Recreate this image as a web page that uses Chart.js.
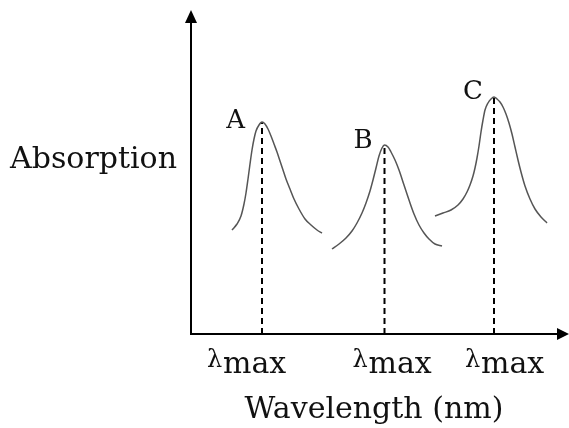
<!DOCTYPE html>
<html>
<head>
<meta charset="utf-8">
<script src="https://cdn.jsdelivr.net/npm/chart.js@4"></script>
<style>
html,body{margin:0;padding:0;background:#fff;}
canvas{display:block;}
</style>
</head>
<body>
<canvas id="c" width="569" height="428"></canvas>
<script>
// ---- data (arbitrary units) ----
const wavelengthA = [41, 46, 50, 53, 55, 57, 59, 61, 63, 65, 68, 71, 74, 77, 80, 83, 86, 89, 92, 95, 99, 103, 108, 114, 120, 126, 131];
const absorptionA = [104, 110, 118, 130, 141, 155, 170, 184, 195, 203, 209, 212, 210, 205, 198, 190, 182, 173, 164, 155, 145, 135, 125, 115, 109, 104, 101];
const wavelengthB = [141, 148, 155, 161, 166, 171, 175, 179, 182, 185, 188, 191, 193.5, 197, 200, 204, 208, 213, 218, 223, 228, 233, 238, 244, 251];
const absorptionB = [85, 90, 96, 103, 111, 121, 131, 143, 154, 166, 178, 186, 189, 187, 182, 174, 164, 149, 134, 120, 109, 101, 95, 90, 88];
const wavelengthC = [244, 252, 260, 267, 272, 276, 279, 282, 284, 286, 288, 290, 292, 294, 297, 300, 303, 306, 309, 312, 315, 318, 321, 324, 327, 330, 334, 339, 344, 350, 356];
const absorptionC = [118, 121, 124, 129, 135, 142, 149, 158, 166, 176, 188, 202, 214, 224, 231, 235, 237, 235, 232, 227, 220, 211, 200, 187, 174, 162, 148, 135, 125, 117, 111];
const peakLabels = ['A', 'B', 'C'];
const peakX = [71, 193.5, 303];
const peakY = [212, 189, 237];
const tickSymbol = 'λ';
const tickSub = 'max';
const xTitle = 'Wavelength (nm)';
const yTitle = 'Absorption';
const xMax = 378, yMax = 324;

const pts = (xs, ys) => xs.map((x, i) => ({x, y: ys[i]}));
const curveStyle = {borderColor: '#555', borderWidth: 1.5, pointRadius: 0, cubicInterpolationMode: 'monotone', fill: false};
const dashStyle = {borderColor: '#000', borderWidth: 2, borderDash: [6, 4], pointRadius: 0, tension: 0, fill: false};

const datasets = [
  Object.assign({data: pts(wavelengthA, absorptionA)}, curveStyle),
  Object.assign({data: pts(wavelengthB, absorptionB)}, curveStyle),
  Object.assign({data: pts(wavelengthC, absorptionC)}, curveStyle),
];
peakX.forEach((px, i) => {
  datasets.push(Object.assign({data: [{x: px, y: 0}, {x: px, y: peakY[i]}]}, dashStyle));
});

const SERIF = '"DejaVu Serif", serif';
const labelOffsets = [{dx: -17, dy: 6}, {dx: -12, dy: 3}, {dx: -11, dy: 2}];
const tickOffsets = [-55, -32, -29];

const decor = {
  id: 'decor',
  afterDraw(chart) {
    const ctx = chart.ctx, xs = chart.scales.x, ys = chart.scales.y;
    const x0 = xs.getPixelForValue(0), y0 = ys.getPixelForValue(0);
    const xR = xs.getPixelForValue(xMax), yT = ys.getPixelForValue(yMax);
    ctx.save();
    ctx.strokeStyle = '#000'; ctx.fillStyle = '#000'; ctx.lineWidth = 2;
    // y axis
    ctx.beginPath(); ctx.moveTo(x0, y0 + 1); ctx.lineTo(x0, yT + 10); ctx.stroke();
    ctx.beginPath(); ctx.moveTo(x0, yT); ctx.lineTo(x0 - 6, yT + 13); ctx.lineTo(x0 + 6, yT + 13); ctx.closePath(); ctx.fill();
    // x axis
    ctx.beginPath(); ctx.moveTo(x0 - 1, y0); ctx.lineTo(xR - 10, y0); ctx.stroke();
    ctx.beginPath(); ctx.moveTo(xR, y0); ctx.lineTo(xR - 12, y0 - 6); ctx.lineTo(xR - 12, y0 + 6); ctx.closePath(); ctx.fill();

    ctx.fillStyle = '#111';
    ctx.textBaseline = 'alphabetic';
    // peak labels
    ctx.font = '26px ' + SERIF; ctx.textAlign = 'right';
    peakLabels.forEach((t, i) => {
      const px = xs.getPixelForValue(peakX[i]), py = ys.getPixelForValue(peakY[i]);
      ctx.fillText(t, px + labelOffsets[i].dx, py + labelOffsets[i].dy);
    });
    // lambda max tick labels
    ctx.textAlign = 'left';
    peakX.forEach((v, i) => {
      const left = xs.getPixelForValue(v) + tickOffsets[i];
      ctx.font = '24px ' + SERIF;
      ctx.fillText(tickSymbol, left, y0 + 33);
      ctx.font = '30px ' + SERIF;
      ctx.fillText(tickSub, left + 16, y0 + 39);
    });
    // axis titles
    ctx.font = '30px ' + SERIF;
    ctx.textAlign = 'center';
    ctx.fillText(xTitle, (x0 + xR) / 2 - 6, y0 + 84);
    ctx.textAlign = 'right';
    ctx.fillText(yTitle, x0 - 14, 168);
    ctx.restore();
  }
};

new Chart(document.getElementById('c'), {
  type: 'line',
  data: {datasets},
  options: {
    responsive: false,
    animation: false,
    devicePixelRatio: 1,
    layout: {padding: {left: 191, right: 0, top: 10, bottom: 94}},
    plugins: {legend: {display: false}, tooltip: {enabled: false}},
    scales: {
      x: {type: 'linear', min: 0, max: xMax, display: false},
      y: {type: 'linear', min: 0, max: yMax, display: false}
    }
  },
  plugins: [decor]
});
</script>
</body>
</html>
